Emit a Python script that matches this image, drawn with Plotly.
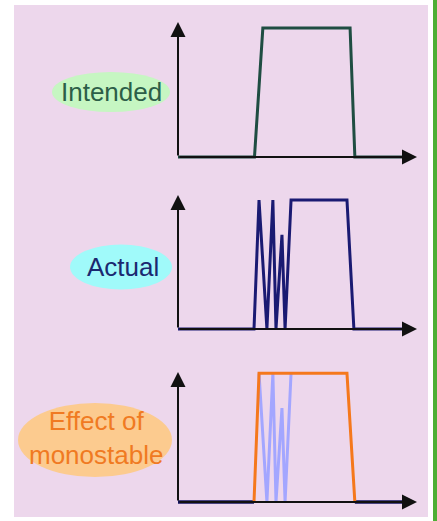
import plotly.graph_objects as go

W, H = 437, 521

# ---- data: time (arbitrary units along the time axis, 0..100) and signal level (0..1)
intended_t = [0, 32.0, 35.5, 72.0, 74.0, 95]
intended_v = [0, 0, 1, 1, 0, 0]

actual_t = [0, 31.8, 33.9, 37.2, 39.7, 41.0, 43.5, 44.8, 47.3, 70.7, 73.6, 95]
actual_v = [0, 0, 1, 0, 1, 0, 0.73, 0, 1, 1, 0, 0]

bounce_t = [33.9, 37.2, 39.7, 41.0, 43.5, 44.8, 47.3]
bounce_v = [1, 0, 1, 0, 0.73, 0, 1]

mono_t = [31.8, 33.9, 70.7, 74.0]
mono_v = [0, 1, 1, 0]

baseline_t = [0, 31.8, None, 74.0, 95]
baseline_v = [0, 0, None, 0, 0]

labels = ["Intended", "Actual", "Effect of<br>monostable"]

# ---- layout geometry (pixels)
X0_PX, X1_PX = 178, 417          # time axis origin / arrow tip
T_MAX = 100
PAD = 12
panels = [  # base pixel, arrow tip pixel, level at arrow tip
    dict(base=157, tip=22, ymax=1.047),
    dict(base=329, tip=195, ymax=1.039),
    dict(base=502, tip=372, ymax=1.01),
]

def fx(px):
    return px / W

def fy(py):
    return 1 - py / H

fig = go.Figure()

sx = (X1_PX - X0_PX) / T_MAX
xdom = [fx(X0_PX - PAD), fx(X1_PX + PAD)]
xrng = [-PAD / sx, T_MAX + PAD / sx]

layout_axes = {}
for i, p in enumerate(panels):
    n = "" if i == 0 else str(i + 1)
    sy = (p["base"] - p["tip"]) / p["ymax"]
    layout_axes["xaxis" + n] = dict(domain=xdom, range=xrng, visible=False,
                                    anchor="y" + n, fixedrange=True)
    layout_axes["yaxis" + n] = dict(domain=[fy(p["base"] + PAD), fy(p["tip"] - PAD)],
                                    range=[-PAD / sy, p["ymax"] + PAD / sy],
                                    visible=False, anchor="x" + n, fixedrange=True)

AX = "#111111"
annotations = []
for i, p in enumerate(panels):
    n = "" if i == 0 else str(i + 1)
    xr, yr = "x" + n, "y" + n
    # y axis arrow
    annotations.append(dict(x=0, y=p["ymax"], ax=0, ay=0, xref=xr, yref=yr,
                            axref=xr, ayref=yr, text="", showarrow=True,
                            arrowhead=2, arrowsize=1.5, arrowwidth=2, arrowcolor=AX))
    # x axis arrow
    annotations.append(dict(x=T_MAX, y=0, ax=0, ay=0, xref=xr, yref=yr,
                            axref=xr, ayref=yr, text="", showarrow=True,
                            arrowhead=2, arrowsize=1.5, arrowwidth=2, arrowcolor=AX))

def line(t, v, color, n, width=3, opacity=1.0):
    fig.add_trace(go.Scatter(x=t, y=v, mode="lines", xaxis="x" + n, yaxis="y" + n,
                             line=dict(color=color, width=width), opacity=opacity,
                             hoverinfo="skip", showlegend=False))

line(intended_t, intended_v, "#1F4D42", "")
line(actual_t, actual_v, "#1A1A72", "2")
line(baseline_t, baseline_v, "#10105E", "3", width=3.5)
line(bounce_t, bounce_v, "#A3A6FF", "3", width=3)
line(mono_t, mono_v, "#F5781C", "3", width=3)

# ---- labels (ellipses + text)
shapes = [
    dict(type="rect", xref="paper", yref="paper", x0=fx(14), x1=fx(428), y0=fy(517), y1=fy(5),
         fillcolor="#EDD7EC", line=dict(width=0), layer="below"),
    dict(type="rect", xref="paper", yref="paper", x0=fx(433), x1=fx(437), y0=0, y1=1,
         fillcolor="#4DAE34", line=dict(width=0), layer="below"),
]
ellipses = [
    dict(cx=111, cy=92, w=118, h=40, fill="#C6F6C2"),
    dict(cx=121, cy=267, w=102, h=45, fill="#A0FAFA"),
    dict(cx=95, cy=440, w=154, h=74, fill="#FCCB8F"),
]
for e in ellipses:
    shapes.append(dict(type="circle", xref="paper", yref="paper",
                       x0=fx(e["cx"] - e["w"] / 2), x1=fx(e["cx"] + e["w"] / 2),
                       y0=fy(e["cy"] + e["h"] / 2), y1=fy(e["cy"] - e["h"] / 2),
                       fillcolor=e["fill"], line=dict(width=0), layer="below"))

text_pos = [(111, 92, "#2C5E48"), (123, 267, "#1B2870"), (96, 438, "#F07A22")]
for lab, (x, y, c) in zip(labels, text_pos):
    annotations.append(dict(x=fx(x), y=fy(y), xref="paper", yref="paper", text=lab,
                            showarrow=False, xanchor="center", yanchor="middle",
                            font=dict(family="Liberation Sans, Arial, sans-serif",
                                      size=26, color=c)))

fig.update_layout(
    width=W, height=H, margin=dict(l=0, r=0, t=0, b=0),
    paper_bgcolor="white", plot_bgcolor="rgba(0,0,0,0)",
    shapes=shapes, annotations=annotations, showlegend=False,
    **layout_axes,
)

fig.write_html("out.html", config={"displayModeBar": False},
               post_script="document.body.style.margin='0';document.body.style.overflow='hidden';")
